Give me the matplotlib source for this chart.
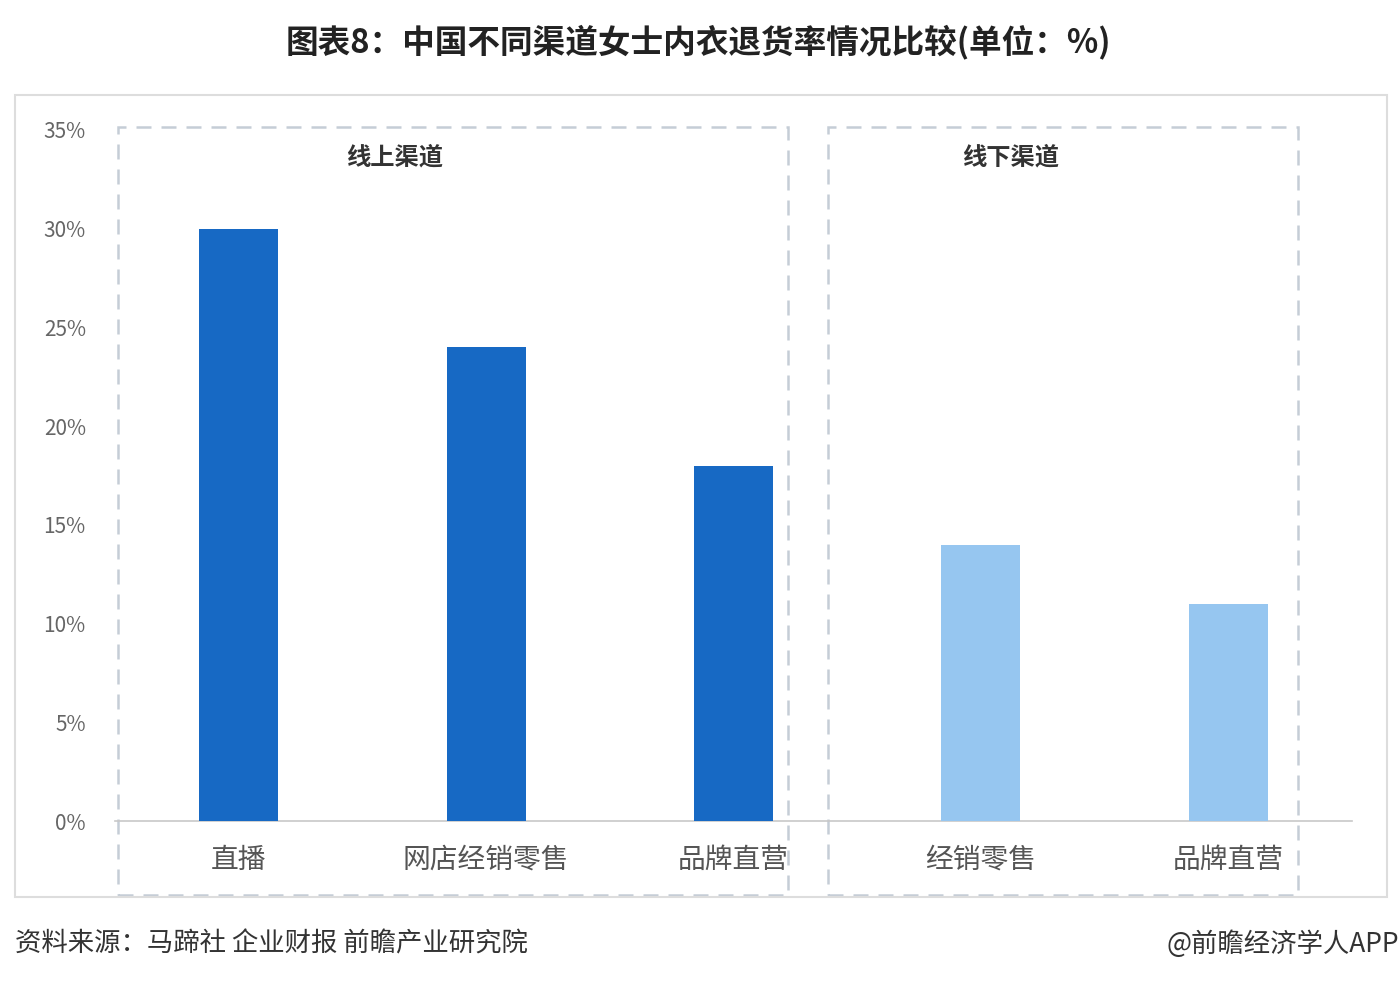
import numpy as np
import matplotlib
matplotlib.use("Agg")
import matplotlib.pyplot as plt
from matplotlib.patches import Rectangle

plt.rcParams['font.family'] = ['Noto Sans CJK SC', 'DejaVu Sans']

# %% Daten
channels = ["直播", "网店经销零售", "品牌直营", "经销零售", "品牌直营"]
rates = [30, 24, 18, 14, 11]
groups = ["线上渠道", "线上渠道", "线上渠道", "线下渠道", "线下渠道"]
group_colors = {"线上渠道": "#1769c4", "线下渠道": "#96c6f0"}
yticks = [0, 5, 10, 15, 20, 25, 30, 35]

title = "图表8：中国不同渠道女士内衣退货率情况比较(单位：%)"
source = "资料来源：马蹄社 企业财报 前瞻产业研究院"
credit = "@前瞻经济学人APP"

# %% Plot
fig = plt.figure(figsize=(13.99, 9.86), dpi=100)
ax = fig.add_axes([0.0822, 0.1673, 0.8842, 0.7009])

x = np.arange(len(channels))
colors = [group_colors[g] for g in groups]
ax.bar(x, rates, width=0.32, color=colors, zorder=3)

ax.set_xlim(-0.5, len(channels) - 0.5)
ax.set_ylim(0, 35)
ax.set_yticks(yticks)
ax.set_yticklabels([f"{v}%" for v in yticks])
ax.set_xticks(x)
ax.set_xticklabels(channels)
ax.tick_params(axis="y", length=0, pad=21, labelsize=15, labelcolor="#666666")
ax.tick_params(axis="x", length=0, pad=17, labelsize=20, labelcolor="#555555")
for s in ["top", "right", "left"]:
    ax.spines[s].set_visible(False)
ax.spines["bottom"].set_color("#c8c8c8")
ax.spines["bottom"].set_linewidth(1.2)

# gestrichelte Gruppenrahmen
boxes = {"线上渠道": (-0.488, 2.22), "线下渠道": (2.38, 4.28)}
for name, (x0, x1) in boxes.items():
    r = Rectangle((x0, -3.75), x1 - x0, 35.16 + 3.75, fill=False,
                  edgecolor="#c5cdd6", linestyle=(0, (6, 4)), linewidth=1.8,
                  clip_on=False, zorder=2)
    ax.add_patch(r)
positions = {"线上渠道": 0.632, "线下渠道": 3.118}
for name, xp in positions.items():
    ax.text(xp, 33.6, name, ha="center", va="center", fontsize=17.5,
            fontweight="bold", color="#333333")

# äußerer Rahmen
fig.patches.append(Rectangle((15 / 1399, 1 - 897 / 986), 1372 / 1399, 802 / 986,
                             transform=fig.transFigure, fill=False,
                             edgecolor="#dddddd", linewidth=1.5))

fig.text(0.499, 1 - 42 / 986, title, ha="center", va="center",
         fontsize=23.5, fontweight="bold", color="#222222")
fig.text(15 / 1399, 1 - 944 / 986, source, ha="left", va="center",
         fontsize=19, color="#333333")
fig.text(1.0, 1 - 944 / 986, credit, ha="right", va="center",
         fontsize=19, color="#333333")

fig.savefig("out.png", dpi=100, facecolor="white")
